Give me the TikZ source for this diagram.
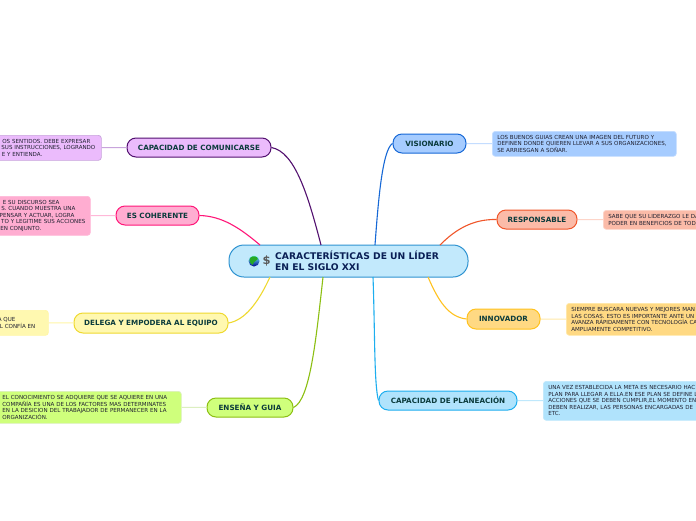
\documentclass[tikz,border=0pt]{standalone}
\usepackage{fontspec}
\setmainfont{DejaVu Sans}
\definecolor{labelcol}{HTML}{0B3B3C}
\definecolor{leafcol}{HTML}{1F2030}
\definecolor{titlecol}{HTML}{0A1F55}
\definecolor{visB}{HTML}{1668D6}\definecolor{visF}{HTML}{A6CCFF}\definecolor{visL}{HTML}{C4DDFF}
\definecolor{resB}{HTML}{F0562A}\definecolor{resF}{HTML}{FBBBA8}\definecolor{resL}{HTML}{FDD5C9}
\definecolor{innB}{HTML}{FFC21F}\definecolor{innF}{HTML}{FFD983}\definecolor{innL}{HTML}{FFE9A8}
\definecolor{plaB}{HTML}{1DAEEF}\definecolor{plaF}{HTML}{B0E3FC}\definecolor{plaL}{HTML}{BFE8FC}
\definecolor{comB}{HTML}{52106F}\definecolor{comF}{HTML}{EBBBFC}\definecolor{comL}{HTML}{C8A4DC}
\definecolor{cohB}{HTML}{FF1678}\definecolor{cohF}{HTML}{FFADD1}\definecolor{cohL}{HTML}{FFB8D8}
\definecolor{delB}{HTML}{EFD92F}\definecolor{delF}{HTML}{FFF8B0}\definecolor{delL}{HTML}{FFF6A6}
\definecolor{ensB}{HTML}{8CBF12}\definecolor{ensF}{HTML}{CFFF7C}\definecolor{ensL}{HTML}{DCEFC0}
\definecolor{cenB}{HTML}{2F93D1}\definecolor{cenF}{HTML}{C2E9FC}
\tikzset{
  x=1pt,y=-1pt,
  topic/.style={line width=1pt,rounded corners=9pt,inner sep=0pt,
    text=labelcol,font=\fontsize{7.2}{8}\selectfont\bfseries},
  leaf/.style={rounded corners=3pt,line width=.7pt,inner ysep=0pt,anchor=north west,
    text=leafcol,align=left,font=\fontsize{5.55}{6.5}\selectfont},
  branch/.style={line width=1.1pt},
  twig/.style={line width=1pt}
}
% name x1 y1 x2 y2 border fill text
\newcommand{\topicnode}[8]{%
  \node[topic,draw=#6,fill=#7,minimum width={#4pt-#2pt},minimum height={#5pt-#3pt}] (#1)
    at ({(#2+#4)/2},{(#3+#5)/2}) {#8};}
% name x1 y1 x2 y2 border fill inset text
\newcommand{\leafnode}[9]{%
  \node[leaf,draw=#6,fill=#7,inner xsep=#8pt,text width={#4pt-#2pt-2*#8pt},minimum height={#5pt-#3pt}] (#1)
    at (#2,#3) {#9};}
\newcommand{\re}[2]{\makebox[#1pt][r]{#2}}
\begin{document}
\begin{tikzpicture}
\useasboundingbox[fill=white] (0,0) rectangle (696,520);
% centre
\node[draw=cenB,fill=cenF,line width=1pt,rounded corners=15pt,minimum width=239pt,minimum height=32pt,inner sep=0pt] (c) at (348.5,261) {};
\node[anchor=west,inner sep=0pt,text=titlecol,align=left,font=\fontsize{9.2}{11}\selectfont\bfseries] (title) at (275,261)
  {CARACTERÍSTICAS DE UN LÍDER\\EN EL SIGLO XXI};
% icons
\node[circle,minimum size=11pt,inner sep=0pt,top color=cyan!55!white,bottom color=blue!55!black] (globe) at (254,261) {};
\fill[green!60!black!85!white] (250,258) .. controls (253,255) and (257,256) .. (258,259) .. controls (256,262) and (253,261) .. (253,265) .. controls (250,264) and (249,261) .. (250,258) -- cycle;
\node[inner sep=0pt,text=black!65,font=\fontsize{11.5}{11.5}\selectfont\bfseries] (dollar) at (266.5,261) {\$};
% topics
\topicnode{vis}{393}{134}{466}{153}{visB}{visF}{VISIONARIO}
\topicnode{res}{497}{210}{577}{229}{resB}{resF}{RESPONSABLE}
\topicnode{inn}{467}{309}{540}{329}{innB}{innF}{INNOVADOR}
\topicnode{pla}{379}{391}{517}{410}{plaB}{plaF}{CAPACIDAD DE PLANEACIÓN}
\topicnode{com}{127}{138}{271}{157}{comB}{comF}{CAPACIDAD DE COMUNICARSE}
\topicnode{coh}{116}{206}{199}{225}{cohB}{cohF}{ES COHERENTE}
\topicnode{del}{74}{313}{228}{333}{delB}{delF}{DELEGA Y EMPODERA AL EQUIPO}
\topicnode{ens}{207}{398}{293}{417}{ensB}{ensF}{ENSEÑA Y GUIA}
% leaves
\leafnode{lvis}{492}{131}{676}{156}{visL}{visF}{5}{\mbox{LOS BUENOS GUIAS CREAN UNA IMAGEN DEL FUTURO Y}\\\mbox{DEFINEN DONDE QUIEREN LLEVAR A SUS ORGANIZACIONES,}\\SE ARRIESGAN A SOÑAR.}
\leafnode{lres}{603}{210}{720}{229}{resL}{resF}{5}{SABE QUE SU LIDERAZGO LE DA\\PODER EN BENEFICIOS DE TOD}
\leafnode{linn}{566}{303}{720}{335}{innL}{innF}{5}{SIEMPRE BUSCARA NUEVAS Y MEJORES MAN\\LAS COSAS. ESTO ES IMPORTANTE ANTE UN\\AVANZA RÁPIDAMENTE CON TECNOLOGÍA CA\\AMPLIAMENTE COMPETITIVO.}
\leafnode{lpla}{543}{381}{720}{420}{plaL}{plaF}{5}{UNA VEZ ESTABLECIDA LA META ES NECESARIO HAC\\PLAN PARA LLEGAR A ELLA.EN ESE PLAN SE DEFINE L\\ACCIONES QUE SE DEBEN CUMPLIR,EL MOMENTO EN\\DEBEN REALIZAR, LAS PERSONAS ENCARGADAS DE\\ETC.}
\leafnode{lcom}{-10}{135}{101}{160}{comL}{comF}{0}{\re{100}{OS SENTIDOS. DEBE EXPRESAR}\\\re{105}{SUS INSTRUCCIONES, LOGRANDO}\\\re{52}{E Y ENTIENDA.}}
\leafnode{lcoh}{-10}{196}{90}{235}{cohL}{cohF}{0}{\re{69}{E SU DISCURSO SEA}\\\re{85}{S. CUANDO MUESTRA UNA}\\\re{84}{PENSAR Y ACTUAR, LOGRA}\\\re{95}{TO Y LEGITIME SUS ACCIONES}\\\re{51}{EN CONJUNTO.}}
\leafnode{ldel}{-10}{310}{48}{335}{delL}{delF}{0}{\re{25}{A QUE}\\\re{45}{L CONFÍA EN}}
\leafnode{lens}{-10}{391}{181}{423}{ensL}{ensF}{12}{\mbox{EL CONOCIMIENTO SE ADQUIERE QUE SE AQUIERE EN UNA}\\\mbox{COMPAÑÍA ES UNA DE LOS FACTORES MAS DETERMINATES}\\\mbox{EN LA DESICION DEL TRABAJADOR DE PERMANECER EN LA}\\ORGANIZACIÓN.}
% attachment points on the central topic
\coordinate (a1) at (375,245);\coordinate (a2) at (440,245);\coordinate (a3) at (428,277);\coordinate (a4) at (373,277);
\coordinate (a5) at (321,245);\coordinate (a6) at (260,245);\coordinate (a7) at (270,277);\coordinate (a8) at (323,277);
% branches
\draw[branch,visB] (a1) .. controls (378,205) and (382,150) .. (vis.west);
\draw[branch,resB] (a2) .. controls (455,230) and (472,219) .. (res.west);
\draw[branch,innB] (a3) .. controls (438,300) and (448,317) .. (inn.west);
\draw[branch,plaB] (a4) .. controls (375,330) and (374,385) .. (pla.west);
\draw[branch,comB] (a5) .. controls (308,195) and (295,152) .. (com.east);
\draw[branch,cohB] (a6) .. controls (240,228) and (222,216) .. (coh.east);
\draw[branch,delB] (a7) .. controls (258,303) and (245,320) .. (del.east);
\draw[branch,ensB] (a8) .. controls (316,340) and (310,400) .. (ens.east);
% twigs
\draw[twig,visL] (vis) -- (lvis);
\draw[twig,resL] (res) -- (lres);
\draw[twig,innL] (inn) -- (linn);
\draw[twig,plaL] (pla) -- (lpla);
\draw[twig,comL] (com) -- (lcom);
\draw[twig,cohL] (coh) -- (lcoh);
\draw[twig,delL] (del) -- (ldel);
\draw[twig,ensL] (ens) -- (lens);
\end{tikzpicture}
\end{document}
